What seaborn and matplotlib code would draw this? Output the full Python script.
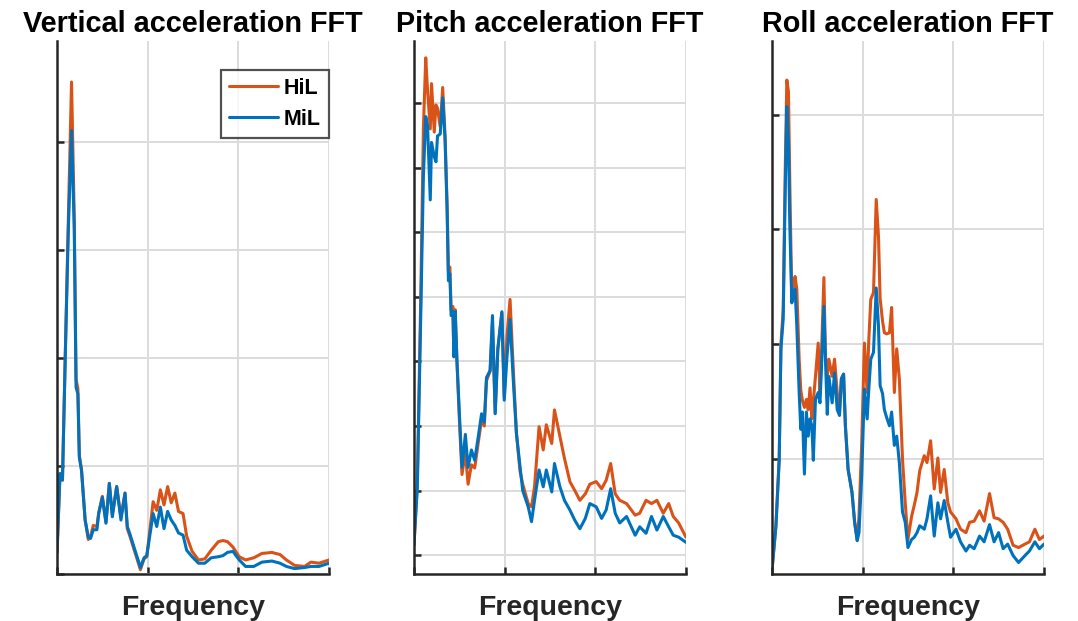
import numpy as np
import pandas as pd
import matplotlib
matplotlib.use("Agg")
import matplotlib.pyplot as plt
import seaborn as sns

# Vertical acceleration FFT
vert_freq = [0, 0.33, 0.6, 0.9, 1.25, 1.6, 1.9, 2.1, 2.3, 2.46, 2.7, 3.1, 3.45, 3.7, 4.0, 4.4, 4.6, 5.0, 5.4, 5.77,
             6.1, 6.58, 7.05, 7.5, 7.75, 8.0, 8.6, 9.2, 9.6, 9.9, 10.6, 11.0, 11.4, 11.8, 12.2, 12.6, 13.0, 13.4, 13.9, 14.3,
             14.9, 15.6, 16.3, 17.0, 17.8, 18.3, 18.8, 19.4, 20.1, 20.8, 21.7, 22.6, 23.7, 24.6, 25.3, 26.2, 27.3, 28.0, 28.9, 30.0]
vert_hil = [0.2, 0.93, 0.87, 2.0, 3.3, 4.56, 3.3, 1.8, 1.72, 1.1, 0.97, 0.5, 0.32, 0.35, 0.45, 0.44, 0.57, 0.72, 0.48, 0.84,
            0.55, 0.81, 0.53, 0.75, 0.42, 0.36, 0.2, 0.04, 0.14, 0.16, 0.67, 0.59, 0.78, 0.64, 0.81, 0.66, 0.75, 0.58, 0.56, 0.35,
            0.21, 0.13, 0.14, 0.22, 0.3, 0.31, 0.3, 0.25, 0.16, 0.13, 0.15, 0.19, 0.2, 0.18, 0.13, 0.08, 0.07, 0.11, 0.1, 0.13]
vert_mil = [0.2, 0.93, 0.87, 1.98, 3.2, 4.11, 3.2, 1.73, 1.67, 1.08, 0.96, 0.5, 0.34, 0.33, 0.41, 0.41, 0.56, 0.71, 0.47, 0.84,
            0.53, 0.81, 0.5, 0.75, 0.44, 0.38, 0.22, 0.06, 0.15, 0.17, 0.56, 0.44, 0.62, 0.42, 0.58, 0.5, 0.45, 0.38, 0.36, 0.22,
            0.16, 0.1, 0.1, 0.15, 0.16, 0.17, 0.2, 0.21, 0.13, 0.07, 0.07, 0.11, 0.12, 0.1, 0.07, 0.05, 0.06, 0.07, 0.07, 0.1]

# Pitch acceleration FFT
pitch_freq = [0, 0.37, 0.75, 1.04, 1.3, 1.5, 1.8, 1.94, 2.24, 2.43, 2.6, 2.9, 3.17, 3.43, 3.66, 3.8, 3.96, 4.1, 4.3, 4.4,
              4.55, 4.74, 5.04, 5.3, 5.67, 5.97, 6.34, 6.7, 7.1, 7.46, 7.76, 8.0, 8.4, 8.66, 8.96, 9.25, 9.7, 9.96, 10.26, 10.6,
              10.95, 11.3, 11.7, 12.0, 12.6, 12.97, 13.3, 13.8, 14.26, 14.6, 15.2, 15.5, 16.1, 16.6, 17.2, 17.75, 18.3, 18.9, 19.4, 20.1,
              20.7, 21.2, 21.7, 22.2, 22.7, 23.45, 24.4, 24.9, 25.6, 26.2, 26.8, 27.5, 28.1, 28.6, 29.2, 30.0]
pitch_hil = [0.16, 1.1, 4.0, 6.6, 7.7, 7.2, 6.6, 7.3, 6.55, 6.97, 6.92, 6.63, 7.24, 6.5, 5.4, 4.4, 4.46, 3.8, 3.85, 3.1,
             3.8, 3.0, 2.0, 1.25, 1.6, 1.1, 1.4, 1.35, 1.75, 2.1, 2.0, 2.7, 2.85, 3.6, 2.2, 3.2, 3.75, 2.45, 3.4, 3.96,
             2.9, 1.9, 1.3, 1.1, 0.8, 0.75, 1.06, 1.99, 1.63, 2.02, 1.73, 2.25, 1.84, 1.5, 1.14, 1.0, 0.85, 0.95, 1.1, 1.14,
             1.03, 1.16, 1.42, 0.95, 0.85, 0.8, 0.62, 0.65, 0.85, 0.8, 0.85, 0.65, 0.8, 0.6, 0.5, 0.28]
pitch_mil = [0.16, 1.04, 3.7, 5.85, 6.79, 6.65, 5.5, 6.39, 6.17, 6.09, 6.49, 6.52, 7.08, 6.44, 5.32, 4.25, 4.36, 3.71, 3.77, 3.07,
             3.77, 3.02, 2.11, 1.36, 1.87, 1.36, 1.63, 1.47, 1.84, 2.19, 2.06, 2.75, 2.86, 3.71, 2.19, 3.18, 3.77, 2.4, 3.07, 3.65,
             2.72, 1.89, 1.37, 1.0, 0.75, 0.52, 0.85, 1.32, 1.06, 1.32, 0.98, 1.42, 1.06, 0.85, 0.7, 0.54, 0.41, 0.57, 0.8, 0.75,
             0.57, 0.7, 1.03, 0.65, 0.5, 0.6, 0.31, 0.44, 0.34, 0.6, 0.39, 0.6, 0.44, 0.31, 0.28, 0.2]

# Roll acceleration FFT
roll_freq = [0, 0.44, 0.8, 0.99, 1.24, 1.46, 1.64, 1.82, 1.97, 2.19, 2.37, 2.55, 2.74, 3.0, 3.18, 3.36, 3.58, 3.8, 4.0, 4.2,
             4.4, 4.56, 4.8, 5.1, 5.3, 5.47, 5.73, 5.9, 6.1, 6.28, 6.64, 6.9, 7.2, 7.45, 7.66, 7.9, 8.1, 8.4, 8.83, 9.12,
             9.4, 9.6, 9.9, 10.2, 10.5, 10.66, 10.9, 11.2, 11.5, 11.75, 11.93, 12.2, 12.4, 12.66, 12.96, 13.2, 13.5, 13.76, 14.05, 14.4,
             14.7, 15.0, 15.4, 15.7, 16.0, 16.3, 16.8, 17.1, 17.5, 17.9, 18.3, 18.6, 19.0, 19.4, 19.7, 20.3, 20.8, 21.4, 21.8, 22.3,
             22.9, 23.4, 24.0, 24.5, 25.0, 25.5, 26.0, 26.6, 27.2, 27.9, 28.4, 29.0, 29.5, 30.0]
roll_hil = [0.03, 0.42, 1.0, 2.0, 2.3, 3.5, 4.3, 4.2, 3.4, 2.39, 2.5, 2.59, 2.48, 1.87, 1.6, 1.51, 1.45, 1.52, 1.43, 1.62,
            1.35, 1.5, 1.72, 2.01, 1.58, 1.93, 2.58, 1.9, 1.72, 1.87, 1.72, 1.87, 1.58, 1.41, 1.7, 1.74, 1.29, 0.91, 0.71, 0.45,
            0.3, 0.5, 1.14, 2.01, 1.58, 2.0, 2.39, 2.45, 3.26, 2.94, 2.4, 2.2, 2.1, 2.09, 2.1, 2.32, 1.58, 1.96, 1.7, 1.0,
            0.62, 0.3, 0.5, 0.6, 0.71, 0.9, 1.03, 0.97, 1.16, 0.74, 1.01, 0.71, 0.91, 0.62, 0.54, 0.48, 0.39, 0.36, 0.45, 0.46,
            0.55, 0.46, 0.7, 0.49, 0.48, 0.45, 0.39, 0.25, 0.23, 0.26, 0.28, 0.39, 0.3, 0.33]
roll_mil = [0.03, 0.42, 1.0, 1.96, 2.22, 3.32, 4.07, 3.75, 3.03, 2.36, 2.45, 2.48, 2.16, 1.58, 1.26, 1.41, 0.87, 1.41, 1.2, 1.35,
            1.29, 0.99, 1.52, 1.58, 1.49, 1.81, 2.33, 1.87, 1.39, 1.72, 1.49, 1.75, 1.43, 1.38, 1.7, 1.74, 1.29, 0.91, 0.71, 0.45,
            0.29, 0.36, 0.86, 1.61, 1.35, 1.58, 1.87, 1.93, 2.49, 2.16, 1.64, 1.57, 1.43, 1.36, 1.29, 1.41, 1.12, 1.2, 0.97, 0.54,
            0.45, 0.23, 0.3, 0.32, 0.36, 0.42, 0.39, 0.48, 0.68, 0.33, 0.62, 0.48, 0.64, 0.45, 0.32, 0.39, 0.28, 0.2, 0.25, 0.22,
            0.33, 0.28, 0.43, 0.28, 0.36, 0.22, 0.26, 0.16, 0.1, 0.16, 0.2, 0.28, 0.22, 0.26]

titles = ["Vertical acceleration FFT", "Pitch acceleration FFT", "Roll acceleration FFT"]
series = ["HiL", "MiL"]
colors = {"HiL": "#D95319", "MiL": "#0072BD"}

sns.set_style("white")
plt.rcParams['font.family'] = ['Liberation Sans', 'DejaVu Sans']

fig = plt.figure(figsize=(10.78, 6.21), dpi=100)
lefts = [0.0529, 0.3840, 0.7161]
panels = [
    (vert_freq, vert_hil, vert_mil, (0, 4.94), [0, 1, 2, 3, 4]),
    (pitch_freq, pitch_hil, pitch_mil, (-0.29, 7.96), [0, 1, 2, 3, 4, 5, 6, 7]),
    (roll_freq, roll_hil, roll_mil, (0, 4.64), [1, 2, 3, 4]),
]

for i, (freq, hil, mil, ylim, yticks) in enumerate(panels):
    ax = fig.add_axes([lefts[i], 0.0757, 0.2523, 0.8583])
    df = pd.DataFrame({
        "Frequency": freq + freq,
        "Amplitude": hil + mil,
        "Signal": ["HiL"] * len(freq) + ["MiL"] * len(freq),
    })
    sns.lineplot(data=df, x="Frequency", y="Amplitude", hue="Signal", hue_order=series,
                 palette=colors, estimator=None, linewidth=2.2, ax=ax, legend=(i == 0))
    ax.set_xlim(0, 30)
    ax.set_ylim(*ylim)
    ax.set_xticks([0, 10, 20, 30])
    ax.set_yticks(yticks)
    ax.tick_params(direction="in", length=5, width=1.8, color="#262626",
                   bottom=True, left=True, labelleft=False, labelbottom=False)
    ax.grid(True, color="#dcdcdc", linewidth=1.4)
    ax.set_axisbelow(True)
    for s in ["top", "right"]:
        ax.spines[s].set_visible(False)
    for s in ["left", "bottom"]:
        ax.spines[s].set_color("#262626")
        ax.spines[s].set_linewidth(1.8)
    ax.set_title(titles[i], fontsize=20.8, fontweight="bold", pad=6.5, color="black")
    ax.set_xlabel("Frequency", fontsize=20.5, fontweight="bold", labelpad=15, color="#262626")
    ax.set_ylabel("")
    if i == 0:
        leg = ax.legend(loc="upper right", bbox_to_anchor=(1.0, 0.946), frameon=True, fancybox=False,
                        prop={"weight": "bold", "size": 15.5}, handlelength=2.3, handletextpad=0.25,
                        labelspacing=0.45, borderpad=0.38, borderaxespad=0)
        leg.get_frame().set_edgecolor("#262626")
        leg.get_frame().set_linewidth(1.6)
        for text in leg.get_texts():
            text.set_color("black")
        for line in leg.get_lines():
            line.set_linewidth(2.2)

fig.savefig("out.png", dpi=100)
